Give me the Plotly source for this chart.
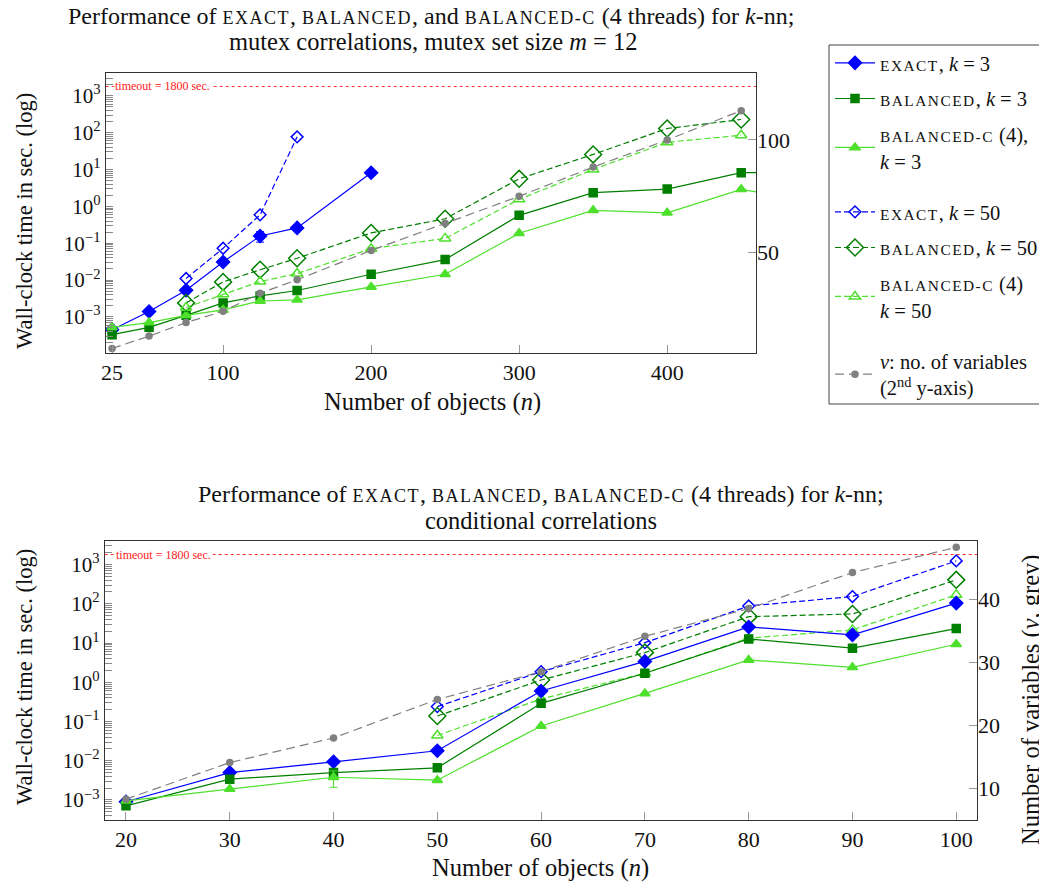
import math
import plotly.graph_objects as go

TIMEOUT = 1800

# ---------------- top chart: mutex correlations (m = 12) ----------------
n_mutex_exact_k3 = [25, 50, 75, 100, 125, 150, 200]
exact_k3_mutex = [4.5e-4, 1.4e-3, 5.3e-3, 0.031, 0.157, 0.26, 8.2]
exact_k3_mutex_err = [0, 0, 0, 0, 0.05, 0, 0]

n_mutex_exact_k50 = [75, 100, 125, 150]
exact_k50_mutex = [0.011, 0.073, 0.59, 77]

n_mutex_k3 = [25, 50, 75, 100, 125, 150, 200, 250, 300, 350, 400, 450, 500]
balanced_k3_mutex = [3.3e-4, 5.2e-4, 1.1e-3, 2.4e-3, 3.7e-3, 5.2e-3, 0.0144, 0.036, 0.57, 2.35, 2.95, 8.2, 8.3]
balc_k3_mutex = [5.2e-4, 7.0e-4, 1.1e-3, 1.55e-3, 2.7e-3, 2.9e-3, 6.5e-3, 0.0144, 0.186, 0.78, 0.67, 2.9, 1.3]

n_mutex_k50 = [75, 100, 125, 150, 200, 250, 300, 350, 400, 450]
balanced_k50_mutex = [2.4e-3, 8.9e-3, 0.019, 0.039, 0.19, 0.46, 5.6, 25.7, 130, 228]
balc_k50_mutex = [1.8e-3, 4.1e-3, 9.1e-3, 0.015, 0.071, 0.135, 1.55, 10, 55, 85]

n_mutex_vars = [25, 50, 75, 100, 125, 150, 200, 250, 300, 350, 400, 450]
vars_mutex = [7.5, 13, 19, 24, 32, 38, 51, 63, 75, 88, 100, 113]

# ---------------- bottom chart: conditional correlations ----------------
n_cond = [20, 30, 40, 50, 60, 70, 80, 90, 100]
exact_k3_cond = [9e-4, 5.0e-3, 9.4e-3, 0.018, 0.60, 3.4, 25.7, 16.1, 104]
balanced_k3_cond = [7.1e-4, 3.4e-3, 5.0e-3, 6.6e-3, 0.29, 1.7, 12.7, 7.4, 23.3]
balc_k3_cond = [9.5e-4, 1.9e-3, 3.8e-3, 3.2e-3, 0.077, 0.52, 3.7, 2.4, 9.3]
balc_k3_cond_err = [0, 0, 1.7e-3, 0, 0, 0, 0, 0, 0]

n_cond_k50 = [50, 60, 70, 80, 90, 100]
exact_k50_cond = [0.24, 1.86, 10.2, 88, 153, 1240]
balanced_k50_cond = [0.138, 1.14, 5.7, 47, 55, 407]
balc_k50_cond = [0.044, 0.375, 1.7, 13.3, 21.6, 169]

vars_cond = [8.3, 14.1, 18, 24.1, 28.5, 34.1, 38.5, 44.2, 48.2]

# ---------------- axis ticks ----------------
log_decades = [-4, -3, -2, -1, 0, 1, 2, 3]
labelled_decades = [-3, -2, -1, 0, 1, 2, 3]
top_xticks = [25, 100, 200, 300, 400]
bottom_xticks = [20, 30, 40, 50, 60, 70, 80, 90, 100]
top_vticks = [50, 100]
bottom_vticks = [10, 20, 30, 40]

log_tickvals, log_ticktext = [], []
for d in log_decades:
    for m in range(1, 10):
        log_tickvals.append(m * 10.0 ** d)
        if m == 1 and d in labelled_decades:
            log_ticktext.append("10<sup>" + ("−" + str(-d) if d < 0 else str(d)) + "</sup>")
        else:
            log_ticktext.append("")

FONT = "Liberation Serif"
BLUE = "#0000ff"
DGREEN = "#007f00"
LGREEN = "#4ee02c"
GREY = "#808080"


def sc(s):
    return '<span style="font-size:75%;letter-spacing:1.5px">' + s.upper() + '</span>'


fig = go.Figure()


def add(x, y, xa, ya, color, symbol, size, dash, name=None, legend=None, err=None, lw=1.2):
    fig.add_trace(go.Scatter(
        x=x, y=y, xaxis=xa, yaxis=ya, mode="lines+markers",
        line=dict(color=color, width=lw, dash=dash),
        marker=dict(symbol=symbol, size=size, color=color,
                    line=dict(color=color, width=1.5)),
        error_y=(dict(type="data", array=err, color=color, thickness=1, width=4, visible=True)
                 if err is not None else None),
        name=name if name else "", showlegend=name is not None,
        legend=legend if legend else "legend",
        legendgroup=name if name else None,
        cliponaxis=True,
    ))


DASH_C = "6px,3px"
DASH_G = "9px,5px"

# top chart traces (with legend)
add(n_mutex_exact_k3, exact_k3_mutex, "x", "y", BLUE, "diamond", 10, "solid",
    sc("exact") + ", <i>k</i> = 3", "legend", exact_k3_mutex_err)
add(n_mutex_k3, balanced_k3_mutex, "x", "y", DGREEN, "square", 8, "solid",
    sc("balanced") + ", <i>k</i> = 3", "legend")
add(n_mutex_k3, balc_k3_mutex, "x", "y", LGREEN, "triangle-up", 9, "solid",
    sc("balanced-c") + " (4),<br><i>k</i> = 3", "legend")
add(n_mutex_exact_k50, exact_k50_mutex, "x", "y", BLUE, "diamond-open", 9, DASH_C,
    sc("exact") + ", <i>k</i> = 50", "legend2")
add(n_mutex_k50, balanced_k50_mutex, "x", "y", DGREEN, "diamond-open", 13, DASH_C,
    sc("balanced") + ", <i>k</i> = 50", "legend2")
add(n_mutex_k50, balc_k50_mutex, "x", "y", LGREEN, "triangle-up-open", 10, DASH_C,
    sc("balanced-c") + " (4)<br><i>k</i> = 50", "legend2")
add(n_mutex_vars, vars_mutex, "x", "y2", GREY, "circle", 6, DASH_G,
    "<i>v</i>: no. of variables<br>(2<sup>nd</sup> y-axis)", "legend3")

# bottom chart traces
add(n_cond, vars_cond, "x2", "y4", GREY, "circle", 6, DASH_G)
add(n_cond_k50, exact_k50_cond, "x2", "y3", BLUE, "diamond-open", 9, DASH_C)
add(n_cond_k50, balanced_k50_cond, "x2", "y3", DGREEN, "diamond-open", 13, DASH_C)
add(n_cond_k50, balc_k50_cond, "x2", "y3", LGREEN, "triangle-up-open", 10, DASH_C)
add(n_cond, exact_k3_cond, "x2", "y3", BLUE, "diamond", 10, "solid")
add(n_cond, balanced_k3_cond, "x2", "y3", DGREEN, "square", 8, "solid")
add(n_cond, balc_k3_cond, "x2", "y3", LGREEN, "triangle-up", 9, "solid", err=balc_k3_cond_err)

W, H = 1047, 888
OFF = 8  # page body margin of the browser


def px_x(p):
    return (p - OFF) / W


def px_y(p):
    return 1 - (p - OFF) / H


AX = dict(showgrid=False, zeroline=False, showline=True, linecolor="#333", linewidth=1,
          mirror=True, ticks="inside", ticklen=8, tickcolor="#999",
          tickfont=dict(family=FONT, size=22, color="#111"))
LOGAX = dict(AX, type="log", tickmode="array", tickvals=log_tickvals, ticktext=log_ticktext,
             ticklen=7, tickcolor="#888", tickfont=dict(family=FONT, size=21, color="#111"))
RAX = dict(showgrid=False, zeroline=False, showline=False, ticks="inside", ticklen=8,
           tickcolor="#999", tickmode="array", tickfont=dict(family=FONT, size=22, color="#111"))

fig.update_layout(
    width=W, height=H, margin=dict(l=0, r=0, t=0, b=0, autoexpand=False),
    paper_bgcolor="white", plot_bgcolor="white",
    font=dict(family=FONT, size=18, color="#111"),
    xaxis=dict(AX, domain=[px_x(105.7), px_x(756)], anchor="y", range=[20.7, 460],
               tickmode="array", tickvals=top_xticks),
    yaxis=dict(LOGAX, domain=[px_y(353), px_y(73)], anchor="x", range=[-3.98, 3.62]),
    yaxis2=dict(RAX, overlaying="y", side="right", anchor="x", range=[5.5, 129.7],
                tickvals=top_vticks),
    xaxis2=dict(AX, domain=[px_x(104.7), px_x(977)], anchor="y3", range=[17.95, 102],
                tickmode="array", tickvals=bottom_xticks),
    yaxis3=dict(LOGAX, domain=[px_y(820), px_y(541)], anchor="x2", range=[-3.51, 3.6]),
    yaxis4=dict(RAX, overlaying="y3", side="right", anchor="x2", range=[5.0, 49.2],
                tickvals=bottom_vticks),
    showlegend=True,
)

LEG = dict(xanchor="left", yanchor="top", bgcolor="rgba(0,0,0,0)", borderwidth=0,
           font=dict(family=FONT, size=20.5, color="#111"), tracegroupgap=6,
           itemwidth=40, valign="middle")
fig.update_layout(
    legend=dict(LEG, x=px_x(830), y=px_y(43)),
    legend2=dict(LEG, x=px_x(830), y=px_y(192)),
    legend3=dict(LEG, x=px_x(830), y=px_y(341)),
)

# legend frame
fig.add_shape(type="rect", xref="paper", yref="paper",
              x0=px_x(829), x1=px_x(1070), y0=px_y(404), y1=px_y(45),
              line=dict(color="#444", width=1), fillcolor="rgba(0,0,0,0)", layer="above")

# timeout lines
for xr, yr in (("x", "y"), ("x2", "y3")):
    fig.add_shape(type="line", xref=xr + " domain", yref=yr, x0=0, x1=1, y0=TIMEOUT, y1=TIMEOUT,
                  line=dict(color="#ff3030", width=1, dash="dot"))
    fig.add_annotation(xref=xr + " domain", yref=yr, x=0.012, y=math.log10(TIMEOUT),
                       xanchor="left", yanchor="middle", showarrow=False,
                       text="timeout = 1800 sec.", bgcolor="white",
                       font=dict(family=FONT, size=12, color="#ff2020"), borderpad=0)

# titles and axis labels
ann = [
    (431, 16, "Performance of " + sc("exact") + ", " + sc("balanced") + ", and " + sc("balanced-c")
     + " (4 threads) for <i>k</i>-nn;", 0, 24),
    (433, 42, "mutex correlations, mutex set size <i>m</i> = 12", 0, 24.5),
    (541, 494, "Performance of " + sc("exact") + ", " + sc("balanced") + ", " + sc("balanced-c")
     + " (4 threads) for <i>k</i>-nn;", 0, 24),
    (541, 520, "conditional correlations", 0, 24.5),
    (432, 402, "Number of objects (<i>n</i>)", 0, 24.5),
    (541, 868, "Number of objects (<i>n</i>)", 0, 24.5),
    (24, 221, "Wall-clock time in sec. (log)", -90, 22.5),
    (24, 677, "Wall-clock time in sec. (log)", -90, 22.5),
    (1031, 700, "Number of variables (<i>v</i>, grey)", -90, 24.5),
]
for x, y, t, ang, fs in ann:
    fig.add_annotation(xref="paper", yref="paper", x=px_x(x), y=px_y(y), text=t, showarrow=False,
                       xanchor="center", yanchor="middle", textangle=ang,
                       font=dict(family=FONT, size=fs, color="#111"))

fig.write_html("out.html")
